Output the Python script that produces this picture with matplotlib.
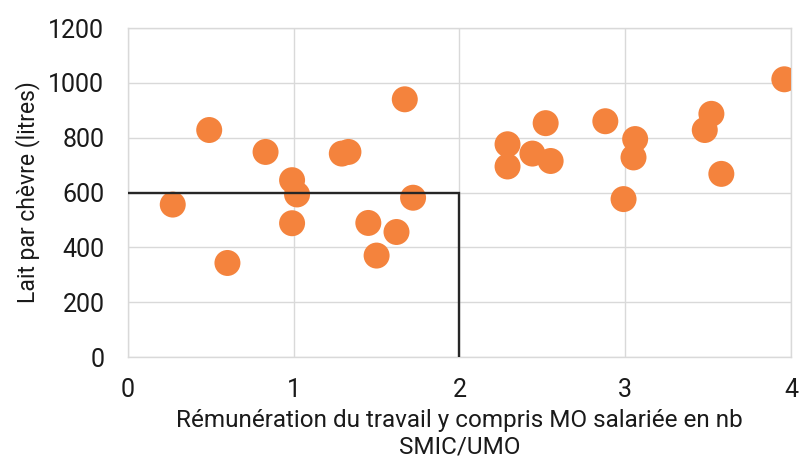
import matplotlib.pyplot as plt

# Rémunération du travail (nb SMIC/UMO) vs lait par chèvre (litres)
remuneration = [0.27, 0.49, 0.60, 0.83, 0.99, 0.99, 1.02, 1.29, 1.33, 1.45,
                1.50, 1.62, 1.67, 1.72, 2.29, 2.29, 2.44, 2.52, 2.55, 2.88,
                2.99, 3.06, 3.05, 3.48, 3.52, 3.58, 3.96]
lait = [556, 828, 343, 748, 645, 488, 593, 742, 748, 489,
        370, 456, 940, 581, 776, 695, 742, 853, 715, 860,
        576, 795, 728, 828, 887, 668, 1013]

# seuils
seuil_x = [0, 2, 2]
seuil_y = [600, 600, 0]

xticks = [0, 1, 2, 3, 4]
yticks = [0, 200, 400, 600, 800, 1000, 1200]

plt.rcParams['font.family'] = ['Roboto', 'DejaVu Sans']

fig = plt.figure(figsize=(8.03, 4.75), dpi=100)
ax = fig.add_axes([0.1594, 0.2484, 0.8256, 0.6926])

ax.scatter(remuneration, lait, s=350, color='#F4833D', edgecolors='none', zorder=3)
ax.plot(seuil_x, seuil_y, color='#262626', lw=1.7, zorder=4, solid_joinstyle='miter')

ax.set_xlim(0, 4)
ax.set_ylim(0, 1200)
ax.set_xticks(xticks)
ax.set_yticks(yticks)
ax.grid(True, color='#D9D9D9', lw=1.0, zorder=0)
ax.set_axisbelow(True)
for s in ax.spines.values():
    s.set_color('#D9D9D9')
    s.set_linewidth(1.0)
ax.tick_params(axis='y', length=0, labelsize=18, pad=17, colors='#1a1a1a')
ax.tick_params(axis='x', length=0, labelsize=18, pad=15, colors='#1a1a1a')

ax.set_xlabel("Rémunération du travail y compris MO salariée en nb\nSMIC/UMO",
              fontsize=17.5, color='#1a1a1a', labelpad=5, linespacing=1.2)
ax.set_ylabel("Lait par chèvre (litres)", fontsize=16.5, color='#1a1a1a', labelpad=6)

fig.savefig('out.png', dpi=100)
